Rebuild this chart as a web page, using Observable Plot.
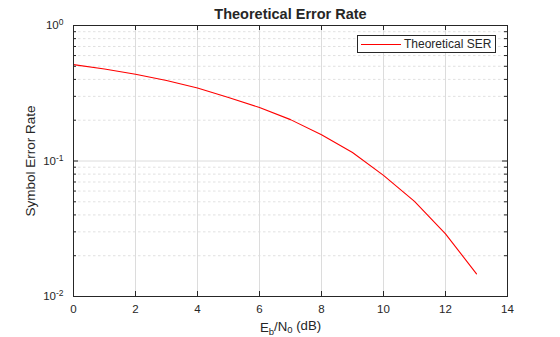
<!DOCTYPE html>
<html>
<head>
<meta charset="utf-8">
<script src="https://cdn.jsdelivr.net/npm/d3@7"></script>
<script src="https://cdn.jsdelivr.net/npm/@observablehq/plot@0.6"></script>
<style>
  html, body { margin: 0; padding: 0; background: #fff; }
  #chart { position: relative; width: 560px; height: 337px; }
  #chart svg { display: block; font-family: "Liberation Sans", Arial, Helvetica, sans-serif; }
  #legend {
    position: absolute; left: 357px; top: 35px; width: 137px; height: 16px;
    border: 1px solid #262626; background: #fff;
    font: 12px "Liberation Sans", Arial, sans-serif; color: #262626;
    display: flex; align-items: center; box-sizing: content-box;
  }
  #legend .swatch { width: 40px; height: 1px; background: #ff0000; margin: 0 3px 0 3px; }
  #legend .label { white-space: nowrap; line-height: 16px; }
</style>
</head>
<body>
<div id="chart"></div>
<script>
// Theoretical symbol error rate vs. Eb/N0
const ebNoDb = [0, 1, 2, 3, 4, 5, 6, 7, 8, 9, 10, 11, 12, 13];
const ser = [0.514, 0.477, 0.437, 0.393, 0.346, 0.294, 0.248, 0.202, 0.156, 0.1156, 0.0783, 0.0504, 0.0290, 0.0147];

const xTicks = [0, 2, 4, 6, 8, 10, 12, 14];
const yDecades = [0.01, 0.1, 1];
const yExponents = ["-2", "-1", "0"];
const yMinor = [0.02, 0.03, 0.04, 0.05, 0.06, 0.07, 0.08, 0.09, 0.2, 0.3, 0.4, 0.5, 0.6, 0.7, 0.8, 0.9];

const titleText = "Theoretical Error Rate";
const yLabelText = "Symbol Error Rate";
const legendText = "Theoretical SER";

const data = ebNoDb.map((x, i) => ({x, y: ser[i]}));

const W = 560, H = 337;
const mL = 73, mR = 53, mT = 25, mB = 41;
const plotH = H - mT - mB;
const plotW = W - mL - mR;
const tickLen = 5;
const ink = "#262626";
const red = "#ff0000";
const gridColor = "#dcdcdc";

const chart = Plot.plot({
  width: W,
  height: H,
  marginLeft: mL,
  marginRight: mR,
  marginTop: mT,
  marginBottom: mB,
  style: {fontFamily: "'Liberation Sans', Arial, sans-serif", color: ink, background: "#fff"},
  x: {domain: [0, 14]},
  y: {type: "log", domain: [0.01, 1]},
  marks: [
    // minor (dashed) and major grid
    Plot.ruleY(yMinor, {y: d => d, stroke: "#d9d9d9", strokeDasharray: "2.5,2.5", strokeWidth: 0.8}),
    Plot.ruleX(xTicks, {x: d => d, stroke: gridColor, strokeWidth: 1}),
    Plot.ruleY(yDecades, {y: d => d, stroke: gridColor, strokeWidth: 1}),
    // the curve
    Plot.line(data, {x: "x", y: "y", stroke: red, strokeWidth: 1.1}),
    // inward tick marks on all four sides
    Plot.ruleX(xTicks, {x: d => d, stroke: ink, insetTop: plotH - tickLen}),
    Plot.ruleX(xTicks, {x: d => d, stroke: ink, insetBottom: plotH - tickLen}),
    Plot.ruleY(yDecades, {y: d => d, stroke: ink, insetRight: plotW - tickLen}),
    Plot.ruleY(yDecades, {y: d => d, stroke: ink, insetLeft: plotW - tickLen}),
    Plot.ruleY(yMinor, {y: d => d, stroke: ink, insetRight: plotW - 3}),
    Plot.ruleY(yMinor, {y: d => d, stroke: ink, insetLeft: plotW - 3}),
    Plot.frame({stroke: ink, strokeWidth: 1}),
    // tick labels
    Plot.axisX(xTicks, {tickSize: 0, tickPadding: 8, fontSize: 11.5, fill: ink, label: null}),
    Plot.axisY(yDecades, {tickSize: 0, tickPadding: 10, fontSize: 11.5, fill: ink, label: null, tickFormat: () => "10"}),
    // title and axis labels
    Plot.text([titleText], {frameAnchor: "top", lineAnchor: "middle", dy: -11, fontSize: 14.5, fontWeight: "bold", fill: ink}),
    Plot.text([yLabelText], {frameAnchor: "left", textAnchor: "middle", lineAnchor: "middle", rotate: -90, dx: -43, fontSize: 13.5, fill: ink}),
    Plot.text(["Eb/N0 (dB)"], {frameAnchor: "bottom", lineAnchor: "middle", dy: 31, fontSize: 13.2, fill: ink})
  ]
});

const svg = d3.select(chart);

// superscript exponents on the y tick labels (labels come in yDecades order)
svg.selectAll("g[aria-label='y-axis tick label'] text").each(function(d, i) {
  const t = d3.select(this);
  t.text(null);
  t.append("tspan").text("10");
  t.append("tspan").attr("dy", "-0.45em").attr("font-size", "8.5px").text(yExponents[i]);
  t.attr("text-anchor", "end");
});

// subscripts on the x label
svg.selectAll("text").filter(function() { return this.textContent === "Eb/N0 (dB)"; }).each(function() {
  const t = d3.select(this);
  t.text(null);
  t.append("tspan").text("E");
  t.append("tspan").attr("font-size", "9.5px").attr("dy", "0.3em").text("b");
  t.append("tspan").attr("dy", "-0.3em").text("/N");
  t.append("tspan").attr("font-size", "9.5px").attr("dy", "0.3em").text("0");
  t.append("tspan").attr("dy", "-0.3em").text(" (dB)");
});

const host = document.getElementById("chart");
host.appendChild(chart);

// legend box in the upper right of the plot area
const legend = document.createElement("div");
legend.id = "legend";
const swatch = document.createElement("span");
swatch.className = "swatch";
const label = document.createElement("span");
label.className = "label";
label.textContent = legendText;
legend.append(swatch, label);
host.appendChild(legend);
</script>
</body>
</html>
